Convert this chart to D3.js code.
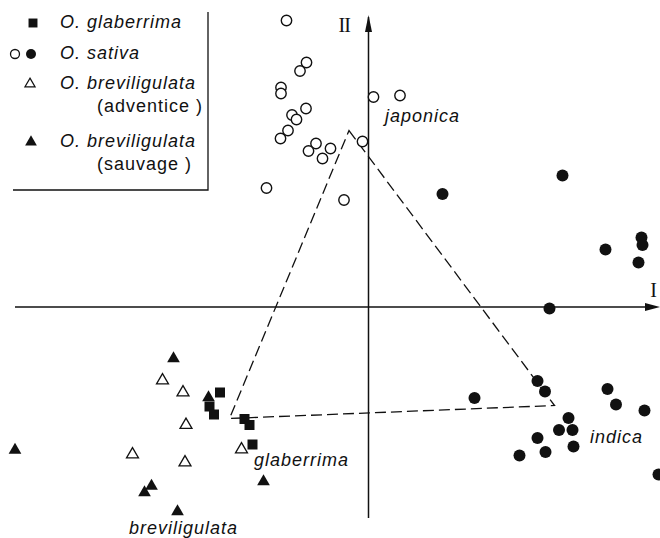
<!DOCTYPE html>
<html>
<head>
<meta charset="utf-8">
<script src="https://cdn.jsdelivr.net/npm/d3@7"></script>
<style>
  body { margin: 0; background: #fff; }
  svg { display: block; }
  text { font-family: "Liberation Sans", Arial, sans-serif; fill: #111; }
</style>
</head>
<body>
<div id="chart"></div>
<script>
// principal component scores (axis I, axis II)
const japonica = [
  [-1.64, 5.73], [-1.24, 4.89], [-1.37, 4.72], [-1.75, 4.39], [-1.75, 4.27],
  [-1.25, 3.97], [-1.53, 3.84], [-1.44, 3.75], [-1.61, 3.53], [-1.76, 3.37],
  [-1.05, 3.27], [-1.20, 3.12], [-0.76, 3.17], [-0.92, 2.97], [-0.12, 3.31],
  [0.10, 4.20], [0.63, 4.23], [-2.04, 2.38], [-0.49, 2.14]
];
const indica = [
  [1.48, 2.26], [3.88, 2.63], [4.74, 1.15], [5.46, 1.39], [5.48, 1.24],
  [5.40, 0.89], [3.62, -0.03], [3.38, -1.48], [3.53, -1.69], [2.12, -1.82],
  [4.78, -1.64], [4.95, -1.95], [5.52, -2.07], [4.00, -2.22], [3.81, -2.46],
  [4.08, -2.46], [3.38, -2.62], [4.10, -2.79], [3.54, -2.90], [3.02, -2.97],
  [5.80, -3.35]
];
const glaberrima = [
  [-2.97, -1.71], [-3.18, -1.99], [-3.09, -2.15], [-2.48, -2.24], [-2.38, -2.36],
  [-2.32, -2.75]
];
const breviSauvage = [
  [-3.90, -1.03], [-3.20, -1.81], [-7.07, -2.86], [-4.34, -3.58], [-4.48, -3.71],
  [-3.82, -4.09], [-2.10, -3.49]
];
const breviAdventice = [
  [-4.12, -1.47], [-3.71, -1.71], [-3.65, -2.36], [-4.72, -2.95], [-3.67, -3.11],
  [-2.54, -2.85]
];
// dashed triangle joining the three group centres
const hull = [[-0.39, 3.53], [3.72, -1.97], [-2.78, -2.23]];

const groupLabels = [
  { text: "japonica", at: [0.33, 3.71] },
  { text: "indica", at: [4.43, -2.72] },
  { text: "glaberrima", at: [-2.29, -3.18] },
  { text: "breviligulata", at: [-4.79, -4.54] }
];
const legendRows = [
  { kind: "square", label: "O. glaberrima" },
  { kind: "circles", label: "O. sativa" },
  { kind: "openTri", label: "O. breviligulata", sub: "(adventice )" },
  { kind: "fillTri", label: "O. breviligulata", sub: "(sauvage )" }
];

const width = 660, height = 538;

const x = d3.scaleLinear().domain([-7.37, 5.83]).range([0, width]);
const y = d3.scaleLinear().domain([6.14, -4.62]).range([0, height]);

const svg = d3.select("#chart").append("svg")
  .attr("width", width)
  .attr("height", height);

// axes with arrows
const axes = svg.append("g").attr("stroke", "#111").attr("stroke-width", 1.5);
axes.append("line")
  .attr("x1", x(-7.07)).attr("x2", x(5.70))
  .attr("y1", y(0)).attr("y2", y(0));
axes.append("line")
  .attr("x1", x(0)).attr("x2", x(0))
  .attr("y1", y(-4.22)).attr("y2", y(5.80));
svg.append("path")
  .attr("d", `M${x(5.83)},${y(0)} l-15,-4 l0,8 z`)
  .attr("fill", "#111");
svg.append("path")
  .attr("d", `M${x(0)},${y(5.84)} l-3.5,17 l7,0 z`)
  .attr("fill", "#111");

svg.append("text")
  .attr("x", x(5.77)).attr("y", y(0.2))
  .attr("text-anchor", "end")
  .style("font-family", "'Liberation Serif', serif")
  .style("font-size", "20px")
  .text("I");
svg.append("text")
  .attr("x", x(-0.60)).attr("y", y(5.50))
  .style("font-family", "'Liberation Serif', serif")
  .style("font-size", "20px")
  .style("letter-spacing", "-1px")
  .text("II");

// dashed triangle
svg.append("path")
  .attr("d", d3.line().x(d => x(d[0])).y(d => y(d[1]))(hull) + "Z")
  .attr("fill", "none")
  .attr("stroke", "#111")
  .attr("stroke-width", 1.3)
  .attr("stroke-dasharray", "11,5");

// points
const sym = (type, size) => d3.symbol().type(type).size(size)();

svg.selectAll(".jap").data(japonica).enter().append("circle")
  .attr("cx", d => x(d[0])).attr("cy", d => y(d[1])).attr("r", 5.2)
  .attr("fill", "#fff").attr("stroke", "#111").attr("stroke-width", 1.4);

svg.selectAll(".ind").data(indica).enter().append("circle")
  .attr("cx", d => x(d[0])).attr("cy", d => y(d[1])).attr("r", 6)
  .attr("fill", "#111");

svg.selectAll(".gla").data(glaberrima).enter().append("path")
  .attr("transform", d => `translate(${x(d[0])},${y(d[1])})`)
  .attr("d", sym(d3.symbolSquare, 100))
  .attr("fill", "#111");

svg.selectAll(".sau").data(breviSauvage).enter().append("path")
  .attr("transform", d => `translate(${x(d[0])},${y(d[1])})`)
  .attr("d", sym(d3.symbolTriangle, 70))
  .attr("fill", "#111");

svg.selectAll(".adv").data(breviAdventice).enter().append("path")
  .attr("transform", d => `translate(${x(d[0])},${y(d[1])})`)
  .attr("d", sym(d3.symbolTriangle, 62))
  .attr("fill", "#fff").attr("stroke", "#111").attr("stroke-width", 1.3);

// group names
svg.selectAll(".glabel").data(groupLabels).enter().append("text")
  .attr("x", d => x(d.at[0])).attr("y", d => y(d.at[1]))
  .style("font-size", "18px")
  .style("font-style", "italic")
  .style("letter-spacing", "1px")
  .text(d => d.text);

// legend
const lg = svg.append("g");
lg.append("path")
  .attr("d", "M13,190 H208 V12")
  .attr("fill", "none").attr("stroke", "#111").attr("stroke-width", 1.3);

const rowY = [28, 59, 89, 147];
legendRows.forEach((r, i) => {
  const yy = rowY[i];
  const my = yy - 5;
  if (r.kind === "square") {
    lg.append("path").attr("transform", `translate(33,${my})`)
      .attr("d", sym(d3.symbolSquare, 80)).attr("fill", "#111");
  } else if (r.kind === "circles") {
    lg.append("circle").attr("cx", 15).attr("cy", my).attr("r", 4.5)
      .attr("fill", "#fff").attr("stroke", "#111").attr("stroke-width", 1.3);
    lg.append("circle").attr("cx", 31).attr("cy", my).attr("r", 5).attr("fill", "#111");
  } else if (r.kind === "openTri") {
    lg.append("path").attr("transform", `translate(30,${my})`)
      .attr("d", sym(d3.symbolTriangle, 45))
      .attr("fill", "#fff").attr("stroke", "#111").attr("stroke-width", 1.2);
  } else {
    lg.append("path").attr("transform", `translate(31,${my})`)
      .attr("d", sym(d3.symbolTriangle, 60)).attr("fill", "#111");
  }
  lg.append("text").attr("x", 60).attr("y", yy)
    .style("font-size", "18px").style("font-style", "italic")
    .style("letter-spacing", "1px")
    .text(r.label);
  if (r.sub) {
    lg.append("text").attr("x", 97).attr("y", yy + 23)
      .style("font-size", "18px")
      .style("letter-spacing", "1px")
      .text(r.sub);
  }
});
</script>
</body>
</html>
